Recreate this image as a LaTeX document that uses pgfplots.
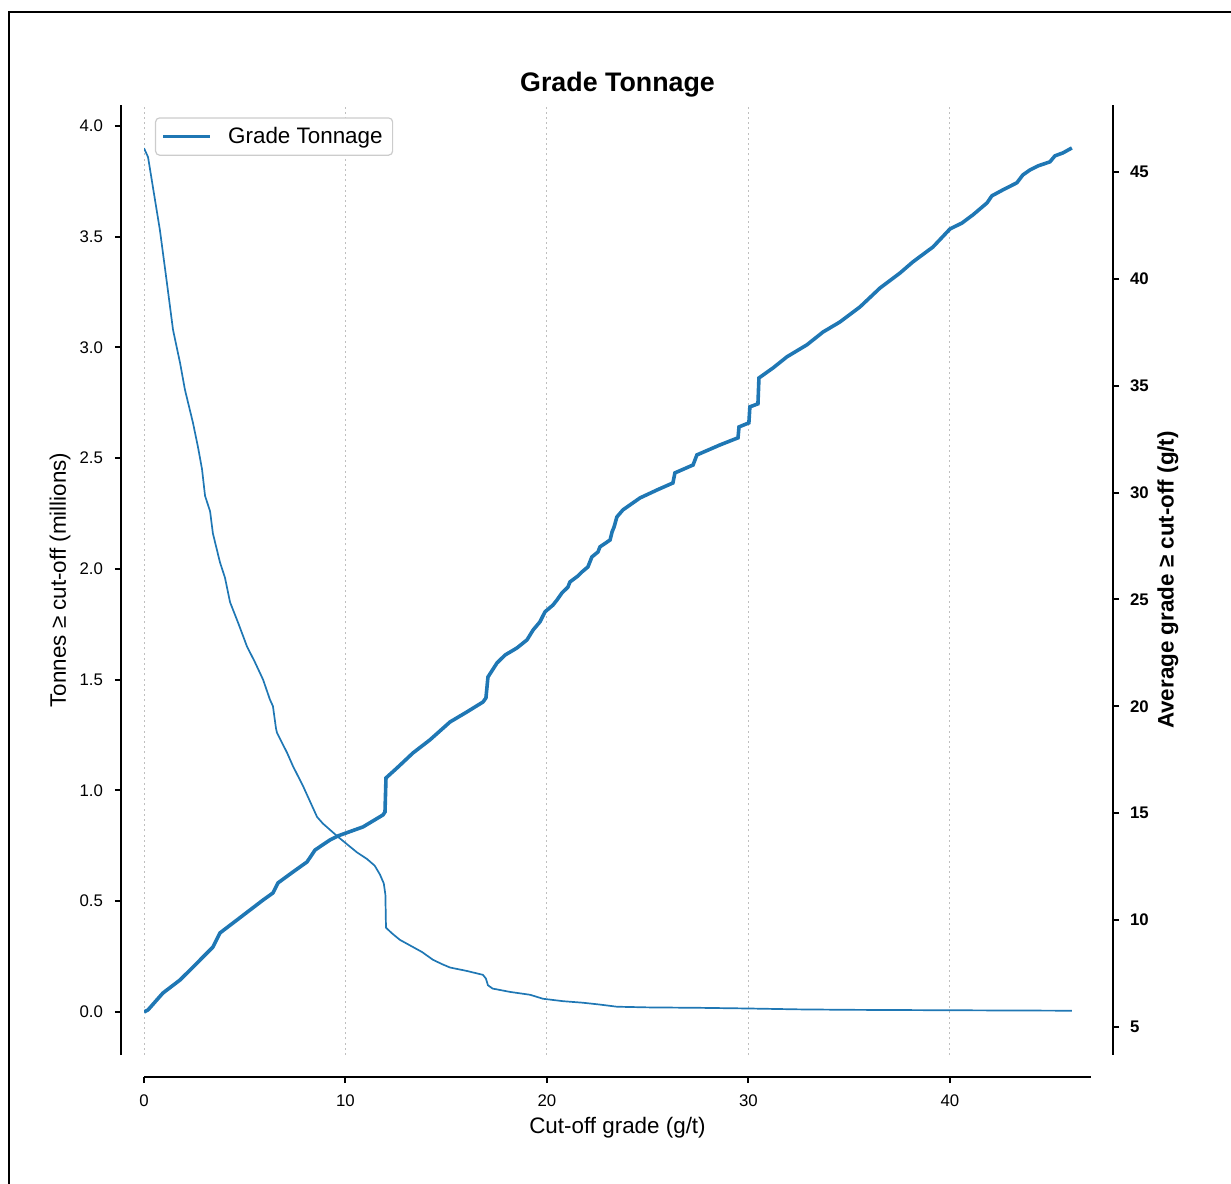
\documentclass[border=0pt]{standalone}
\usepackage{fontspec}
\setmainfont{Liberation Sans}
\usepackage{pgfplots}
\pgfplotsset{compat=1.18}
\definecolor{tabblue}{HTML}{1F77B4}

\pgfplotstableread{
x t
0.00 3.90
0.20 3.86
0.45 3.72
0.79 3.53
1.14 3.29
1.44 3.08
1.79 2.93
2.03 2.81
2.43 2.66
2.68 2.55
2.88 2.45
3.03 2.33
3.28 2.26
3.42 2.16
3.77 2.03
4.02 1.96
4.27 1.85
4.70 1.75
5.11 1.65
5.50 1.58
5.91 1.50
6.25 1.41
6.40 1.38
6.55 1.28
6.60 1.26
7.10 1.17
7.39 1.11
7.89 1.02
8.34 0.93
8.59 0.88
8.88 0.85
9.63 0.79
10.10 0.755
10.57 0.72
11.07 0.69
11.45 0.66
11.71 0.62
11.90 0.58
11.98 0.53
12.01 0.38
12.30 0.355
12.70 0.325
13.20 0.30
13.80 0.27
14.34 0.235
14.80 0.215
15.19 0.20
16.00 0.185
16.82 0.167
16.97 0.15
17.07 0.12
17.30 0.105
18.16 0.090
19.16 0.077
19.80 0.059
20.80 0.048
21.79 0.041
22.60 0.033
23.47 0.023
25.00 0.020
27.59 0.018
30.00 0.015
32.50 0.011
35.00 0.009
40.00 0.007
46.05 0.005
}\tonnage

\pgfplotstableread{
x g
0.00 5.70
0.20 5.80
0.94 6.59
1.79 7.20
2.63 7.99
3.42 8.74
3.77 9.40
4.62 10.01
5.91 10.94
6.40 11.27
6.65 11.74
7.39 12.25
8.09 12.72
8.49 13.28
9.23 13.75
9.63 13.94
10.87 14.36
11.86 14.92
11.96 15.06
12.01 16.65
12.56 17.12
13.35 17.82
14.19 18.43
15.19 19.27
16.03 19.74
16.82 20.20
16.97 20.39
17.07 21.37
17.52 22.03
17.92 22.40
18.51 22.73
19.01 23.11
19.31 23.57
19.65 23.95
19.90 24.42
20.30 24.74
20.50 24.98
20.74 25.30
21.04 25.58
21.14 25.82
21.54 26.10
21.74 26.29
22.03 26.52
22.23 26.99
22.53 27.22
22.63 27.46
23.13 27.78
23.23 28.16
23.33 28.39
23.47 28.86
23.77 29.19
24.62 29.75
25.46 30.12
26.25 30.45
26.35 30.92
27.25 31.29
27.44 31.76
28.59 32.23
29.48 32.56
29.53 33.07
30.02 33.26
30.07 34.01
30.47 34.15
30.52 35.36
31.22 35.83
31.91 36.35
32.90 36.91
33.70 37.51
34.54 37.98
35.53 38.68
36.53 39.57
37.52 40.27
38.16 40.79
39.16 41.49
40.00 42.33
40.60 42.61
41.14 42.99
41.84 43.55
42.08 43.88
42.63 44.16
43.32 44.49
43.62 44.86
43.97 45.09
44.37 45.28
44.96 45.47
45.21 45.75
45.61 45.89
46.05 46.12
}\grade

\begin{document}
\begin{tikzpicture}
\useasboundingbox (0,0) rectangle (615.5pt,591.5pt);
\begin{scope}
\clip (0,0) rectangle (615.5pt,591.5pt);
\draw[line width=1pt] (4.5pt,-10pt) -- (4.5pt,585.5pt) -- (630pt,585.5pt);
\end{scope}

\begin{axis}[
  at={(72pt,64pt)}, anchor=south west,
  scale only axis, width=473.5pt, height=475pt,
  xmin=0, xmax=47, ymin=-0.195, ymax=4.095,
  axis x line*=bottom, axis y line*=left,
  axis x line shift=11pt, axis y line shift=11.5pt,
  axis line style={-, line width=1pt, black},
  tick align=outside, major tick length=3pt,
  tick style={line width=1pt, black},
  xtick={0,10,20,30,40},
  ytick={0,0.5,1,1.5,2,2.5,3,3.5,4},
  /pgf/number format/assume math mode=true,
  tick label style={font=\fontsize{8.4}{10}\selectfont},
  xticklabel style={yshift=-2.5pt},
  yticklabel style={xshift=-2.5pt, /pgf/number format/.cd, fixed, fixed zerofill, precision=1},
  xmajorgrids=true,
  major grid style={gray!50, line width=0.5pt, dash pattern=on 1pt off 1.6pt},
  xlabel={Cut-off grade (g/t)},
  xlabel style={font=\fontsize{11.2}{13}\selectfont, at={(axis description cs:0.5,-0.0768)}, anchor=center},
  ylabel={Tonnes ≥ cut-off (millions)},
  ylabel style={font=\fontsize{11.2}{13}\selectfont, at={(axis description cs:-0.0887,0.5)}, anchor=center},
  title={Grade Tonnage},
  title style={font=\bfseries\fontsize{13.4}{16}\selectfont, at={(axis description cs:0.5,1.0083)}, anchor=center},
]
\addplot[tabblue, line width=0.85pt] table[x=x, y=t] {\tonnage};
\end{axis}

\begin{axis}[
  at={(72pt,64pt)}, anchor=south west,
  scale only axis, width=473.5pt, height=475pt,
  xmin=0, xmax=47, ymin=3.69, ymax=48.13,
  axis x line=none, axis y line*=right,
  axis y line shift=11pt,
  axis line style={-, line width=1pt, black},
  tick align=outside, major tick length=3pt,
  tick style={line width=1pt, black},
  ytick={5,10,15,20,25,30,35,40,45},
  /pgf/number format/assume math mode=true,
  yticklabel style={xshift=2pt, font=\bfseries\fontsize{8.4}{10}\selectfont},
  ylabel={Average grade ≥ cut-off (g/t)},
  ylabel style={font=\bfseries\fontsize{11.2}{13}\selectfont, at={(axis description cs:1.0813,0.5)}, anchor=center},
  legend style={at={(axis description cs:0.0116,0.987)}, anchor=north west,
    draw=black!20, line width=0.6pt, rounded corners=2pt, fill=white,
    font=\fontsize{11.2}{13}\selectfont, inner xsep=3pt, inner ysep=2.5pt,
    /tikz/column sep=6pt},
  legend image code/.code={\draw[#1] (0pt,0pt) -- (23.5pt,0pt);},
]
\addplot[tabblue, line width=1.8pt] table[x=x, y=g] {\grade};
\addlegendentry{Grade Tonnage}
\end{axis}
\end{tikzpicture}
\end{document}
